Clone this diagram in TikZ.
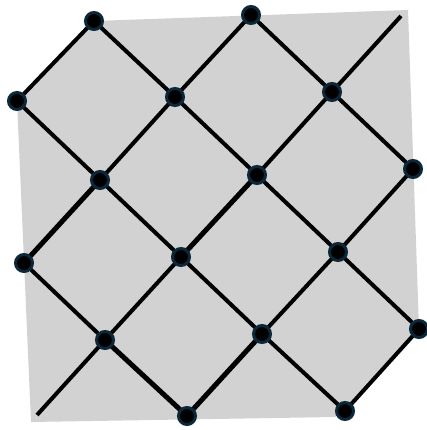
\documentclass[tikz,border=0pt]{standalone}
\begin{document}
\begin{tikzpicture}[x=1pt,y=-1pt,
  link/.style={line width=4pt,black},
  thick link/.style={line width=5pt,black},
  dot/.style={circle,fill=black,draw={rgb,255:red,10;green,40;blue,58},line width=3pt,minimum size=17pt,inner sep=0pt}]
\useasboundingbox (0,0) rectangle (427,430);
\fill[gray!35] (17,101) -- (94,21) -- (408,10) -- (419,329) -- (345,411) -- (335,417) -- (31,422) -- cycle;
% points
\coordinate (a1) at (94,21);
\coordinate (a2) at (251,15);
\coordinate (b1) at (17,101);
\coordinate (b2) at (175,97);
\coordinate (b3) at (332,92);
\coordinate (c1) at (100,180);
\coordinate (c2) at (257,175);
\coordinate (c3) at (413,169);
\coordinate (d1) at (24,263);
\coordinate (d2) at (181,257);
\coordinate (d3) at (338,252);
\coordinate (e1) at (105,340);
\coordinate (e2) at (262,334);
\coordinate (e3) at (419,329);
\coordinate (f1) at (187,416);
\coordinate (f2) at (345,411);
\coordinate (tr) at (401,16);
\coordinate (bl) at (37,415);
% down-right lines
\draw[link] (a1) -- (b2) -- (c2) -- (d3) -- (e3);
\draw[link] (b1) -- (c1) -- (d2) -- (e2) -- (f2);
\draw[link] (d1) -- (e1);
\draw[thick link] (e1) -- (f1);
\draw[link] (a2) -- (b3) -- (c3);
% up-right lines
\draw[link] (b1) -- (a1);
\draw[thick link] (d1) -- (c1);
\draw[link] (c1) -- (b2) -- (a2);
\draw[link] (bl) -- (e1) -- (d2);
\draw[thick link] (d2) -- (c2);
\draw[link] (c2) -- (b3) -- (tr);
\draw[thick link] (f1) -- (e2);
\draw[link] (e2) -- (d3) -- (c3);
\draw[link] (f2) -- (e3);
% dots
\foreach \p in {a1,a2,b1,b2,b3,c1,c2,c3,d1,d2,d3,e1,e2,e3,f1,f2}
  \node[dot] (n\p) at (\p) {};
\end{tikzpicture}
\end{document}
